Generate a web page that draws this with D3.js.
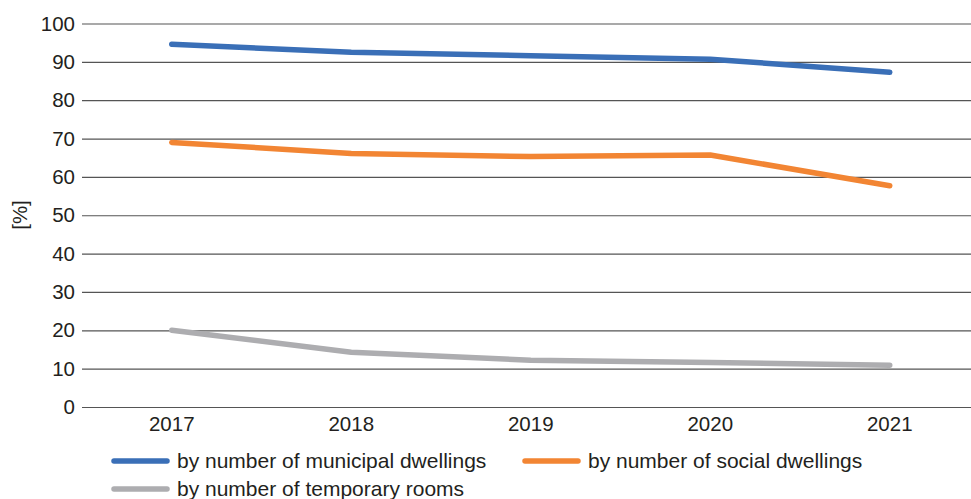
<!DOCTYPE html>
<html><head><meta charset="utf-8">
<script src="https://cdn.jsdelivr.net/npm/d3@7/dist/d3.min.js"></script>
<style>body{margin:0;background:#fff;}svg{display:block;font-family:"Liberation Sans",Arial,sans-serif;}</style>
</head><body><svg id="c" width="971" height="499"></svg>
<script>
const categories = ["2017","2018","2019","2020","2021"];
const municipal = [94.6, 92.5, 91.6, 90.7, 87.3];
const social = [69.0, 66.1, 65.3, 65.7, 57.7];
const temporary = [20.0, 14.3, 12.2, 11.6, 10.9];
const seriesNames = ["by number of municipal dwellings","by number of social dwellings","by number of temporary rooms"];
const seriesColors = ["#3A6FB7","#F28533","#ADADB0"];
const yTicks = [0,10,20,30,40,50,60,70,80,90,100];

(function(){
const svg = d3.select("#c");
const mL = 82, mR = 971, mT = 23.5, mB = 407;
const fs = 20.5;
const x = d3.scaleBand().domain(categories).range([mL, mL + 179.5*5]);
const y = d3.scaleLinear().domain([0,100]).range([mB, mT]);
const textColor = "#231F20";

const ya = svg.append("g").attr("transform", `translate(${mL},0)`)
  .call(d3.axisLeft(y).tickValues(yTicks).tickSize(-(mR-mL)).tickPadding(7).tickFormat(d3.format("d")));
ya.select(".domain").remove();
ya.selectAll(".tick line").attr("stroke","#555").attr("stroke-width",1.2);
ya.selectAll(".tick text").attr("fill",textColor).attr("font-size",fs);

const xa = svg.append("g").attr("transform", `translate(0,${mB})`)
  .call(d3.axisBottom(x).tickSize(0).tickPadding(9));
xa.select(".domain").remove();
xa.selectAll(".tick text").attr("fill",textColor).attr("font-size",fs);

svg.append("text").attr("transform","translate(27,215) rotate(-90)")
  .attr("text-anchor","middle").attr("fill",textColor).attr("font-size",fs).text("[%]");

const data = [municipal, social, temporary];
const line = d3.line().x((d,i)=>x(categories[i]) + x.bandwidth()/2).y(d=>y(d));
data.forEach((s,k)=>{
  svg.append("path").attr("d", line(s)).attr("fill","none")
    .attr("stroke", seriesColors[k]).attr("stroke-width",5.5)
    .attr("stroke-linecap","round").attr("stroke-linejoin","round");
});

const legPos = [[112,461],[523,461],[112,489]];
seriesNames.forEach((n,k)=>{
  const [lx,ly] = legPos[k];
  svg.append("line").attr("x1",lx+2).attr("x2",lx+55).attr("y1",ly).attr("y2",ly)
    .attr("stroke",seriesColors[k]).attr("stroke-width",5.5).attr("stroke-linecap","round");
  svg.append("text").attr("x",lx+65).attr("y",ly).attr("dy","0.35em")
    .attr("fill",textColor).attr("font-size",21).text(n);
});
})();
</script></body></html>
